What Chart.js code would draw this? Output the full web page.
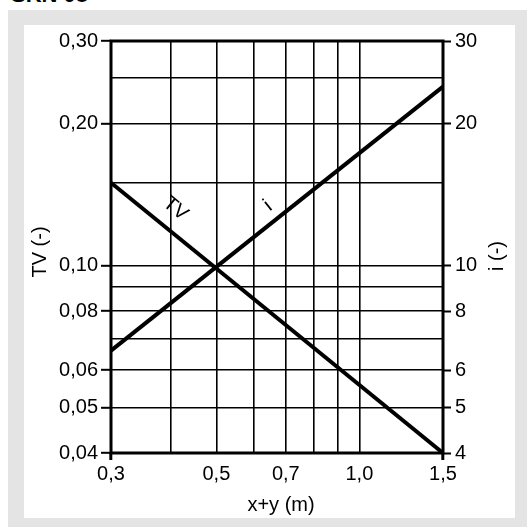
<!DOCTYPE html>
<html>
<head>
<meta charset="utf-8">
<script src="https://cdn.jsdelivr.net/npm/chart.js@4"></script>
<style>
  body { margin: 0; background: #fff; width: 527px; height: 527px; overflow: hidden; position: relative; font-family: "Liberation Sans", Arial, sans-serif; }
  #titel { position: absolute; left: 11px; top: -16px; font-weight: bold; font-size: 22px; line-height: 22px; color: #000; }
  #rahmen { position: absolute; left: 8px; top: 10px; width: 519px; height: 517px; background: #e4e4e4; }
  #feld { position: absolute; left: 24px; top: 25px; width: 491px; height: 493px; background: #fff; }
</style>
</head>
<body>
<div id="titel">SKN 08</div>
<div id="rahmen"></div>
<div id="feld"><canvas id="diagramm" width="491" height="493"></canvas></div>
<script>
// x+y (m): Gitterlinien und beschriftete Werte
const xGitter = [0.3, 0.4, 0.5, 0.6, 0.7, 0.8, 0.9, 1.0, 1.5]
const xBeschriftet = [0.3, 0.5, 0.7, 1.0, 1.5]

// TV (-) links
const tvGitter = [0.04, 0.05, 0.06, 0.07, 0.08, 0.09, 0.10, 0.15, 0.20, 0.25, 0.30]
const tvBeschriftet = [0.04, 0.05, 0.06, 0.08, 0.10, 0.20, 0.30]

// i (-) rechts
const iBeschriftet = [4, 5, 6, 8, 10, 20, 30]

// Kurven
const xWerte = [0.3, 1.5]
const tvWerte = [0.15, 0.04]
const iWerte = [6.6, 24]

const schrift = '"Liberation Sans", Arial, sans-serif'
const groesse = 20
const komma = (v, n) => v.toFixed(n).replace('.', ',')
const hat = (liste, v) => liste.some(w => Math.abs(w - v) < 1e-9)

const setzeTicks = (werte) => (scale) => {
    scale.ticks = werte.map(v => ({ value: v }))
}

const beschriftung = {
    id: 'beschriftung',
    beforeDatasetsDraw(chart) {
        const { ctx, chartArea: a } = chart
        ctx.save()
        ctx.strokeStyle = '#000'
        ctx.lineWidth = 3
        ctx.strokeRect(a.left, a.top, a.right - a.left, a.bottom - a.top)
        ctx.restore()
    },
    afterDatasetsDraw(chart) {
        const { ctx, chartArea: a, scales } = chart
        const x = scales.x, y = scales.y, y2 = scales.y2
        ctx.save()
        ctx.fillStyle = '#000'
        ctx.font = groesse + 'px ' + schrift
        ctx.textAlign = 'center'
        ctx.textBaseline = 'middle'

        // Achsentitel
        ctx.fillText('x+y (m)', (a.left + a.right) / 2 + 4, 480)
        ctx.save()
        ctx.translate(16, 227)
        ctx.rotate(-Math.PI / 2)
        ctx.fillText('TV (-)', 0, 0)
        ctx.restore()
        ctx.save()
        ctx.translate(473, 231)
        ctx.rotate(-Math.PI / 2)
        ctx.fillText('i (-)', 0, 0)
        ctx.restore()

        // Kurvennamen entlang der Linien
        const winkel = (sk, werte) => Math.atan2(
            sk.getPixelForValue(werte[1]) - sk.getPixelForValue(werte[0]),
            x.getPixelForValue(xWerte[1]) - x.getPixelForValue(xWerte[0]))
        ctx.save()
        ctx.translate(x.getPixelForValue(0.41), y.getPixelForValue(0.132))
        ctx.rotate(winkel(y, tvWerte))
        ctx.fillText('TV', 0, 0)
        ctx.restore()
        ctx.save()
        ctx.translate(x.getPixelForValue(0.642), y2.getPixelForValue(13.4))
        ctx.rotate(winkel(y2, iWerte))
        ctx.fillText('i', 0, 0)
        ctx.restore()
        ctx.restore()
    }
}

const diagramm = new Chart(document.getElementById('diagramm'), {
    type: 'line',
    data: {
        datasets: [
            {
                label: 'TV',
                data: xWerte.map((v, k) => ({ x: v, y: tvWerte[k] })),
                yAxisID: 'y',
                borderColor: '#000',
                borderWidth: 4,
                pointRadius: 0,
                tension: 0
            },
            {
                label: 'i',
                data: xWerte.map((v, k) => ({ x: v, y: iWerte[k] })),
                yAxisID: 'y2',
                borderColor: '#000',
                borderWidth: 4,
                pointRadius: 0,
                tension: 0
            }
        ]
    },
    options: {
        responsive: false,
        animation: false,
        layout: { padding: { top: 15, left: 0, right: 0, bottom: 0 } },
        plugins: { legend: { display: false }, tooltip: { enabled: false } },
        scales: {
            x: {
                type: 'logarithmic',
                min: 0.3,
                max: 1.5,
                afterBuildTicks: setzeTicks(xGitter),
                afterFit: (s) => { s.height = 65 },
                border: { display: false },
                grid: {
                    color: '#000',
                    lineWidth: 1.6,
                    tickLength: 7,
                    tickWidth: 3,
                    tickColor: (c) => (c.tick && (c.tick.value === 0.3 || c.tick.value === 1.5)) ? '#000' : 'rgba(0,0,0,0)'
                },
                ticks: {
                    autoSkip: false,
                    maxRotation: 0,
                    padding: 2,
                    color: '#000',
                    font: { family: schrift, size: groesse },
                    callback: (v) => hat(xBeschriftet, v) ? komma(v, 1) : ''
                }
            },
            y: {
                type: 'logarithmic',
                position: 'left',
                min: 0.04,
                max: 0.30,
                afterBuildTicks: setzeTicks(tvGitter),
                afterFit: (s) => { s.width = 87 },
                border: { display: false },
                grid: {
                    color: '#000',
                    lineWidth: 1.6,
                    tickLength: 10,
                    tickWidth: 2,
                    tickColor: (c) => (c.tick && hat(tvBeschriftet, c.tick.value)) ? '#000' : 'rgba(0,0,0,0)'
                },
                ticks: {
                    autoSkip: false,
                    padding: 3,
                    color: '#000',
                    font: { family: schrift, size: groesse },
                    callback: (v) => hat(tvBeschriftet, v) ? komma(v, 2) : ''
                }
            },
            y2: {
                type: 'logarithmic',
                position: 'right',
                min: 4,
                max: 30,
                afterBuildTicks: setzeTicks(iBeschriftet),
                afterFit: (s) => { s.width = 72 },
                border: { display: false },
                grid: {
                    drawOnChartArea: false,
                    color: '#000',
                    tickLength: 8,
                    tickWidth: 2,
                    tickColor: '#000'
                },
                ticks: {
                    autoSkip: false,
                    padding: 4,
                    color: '#000',
                    font: { family: schrift, size: groesse },
                    callback: (v) => String(v)
                }
            }
        }
    },
    plugins: [beschriftung]
})
</script>
</body>
</html>
